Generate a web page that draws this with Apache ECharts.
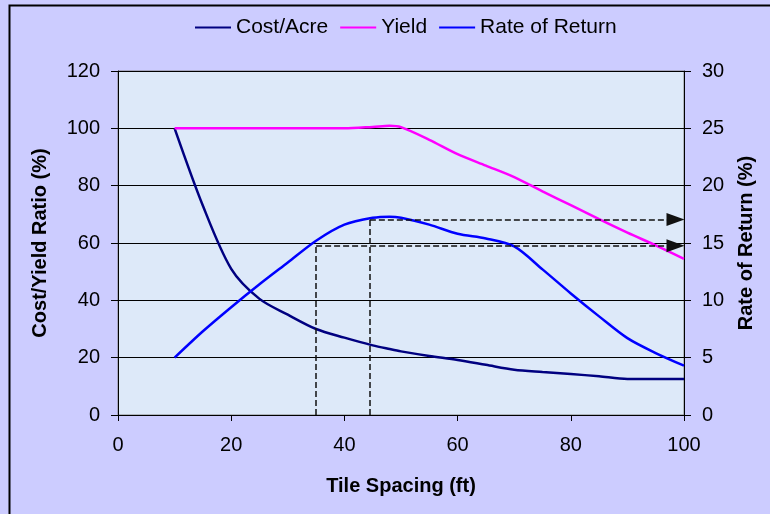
<!DOCTYPE html>
<html>
<head>
<meta charset="utf-8">
<script src="https://cdn.jsdelivr.net/npm/echarts@6/dist/echarts.min.js"></script>
<style>
  html, body { margin: 0; padding: 0; background: #ccccff; }
  #chart { width: 770px; height: 514px; }
</style>
</head>
<body>
<div id="chart"></div>
<script>
// tile spacing (ft)
const spacing = [10, 15, 20, 25, 30, 35, 40, 45, 48, 50, 55, 60, 65, 70, 75, 80, 85, 90, 95, 100]
// left axis (%)
const costAcre = [100, 73, 51, 40.5, 35, 30, 27, 24.3, 23, 22.2, 20.6, 19.2, 17.5, 15.8, 15, 14.3, 13.5, 12.6, 12.6, 12.6]
const yieldPct = [100, 100, 100, 100, 100, 100, 100, 100.5, 100.9, 100.4, 96, 91, 87, 83, 78, 73.2, 68.3, 63.6, 59.2, 54.5]
// right axis (%)
const rateReturn = [5, 7.3, 9.4, 11.4, 13.3, 15.2, 16.6, 17.2, 17.3, 17.2, 16.6, 15.8, 15.4, 14.7, 12.7, 10.6, 8.6, 6.7, 5.4, 4.3]
// dashed guide lines: spacing -> rate of return
const guideX = [35, 44.5]
const guideY = [14.75, 17.05]
const guideEndX = 98.5

const FONT = '"Liberation Sans", Arial, sans-serif'
const pairs = ys => spacing.map((x, i) => [x, ys[i]])

const chart = echarts.init(document.getElementById('chart'))

const dash = { color: '#111', width: 1.5, type: [6, 3] }
const guideLines = []
guideX.forEach((gx, i) => {
  guideLines.push([{ coord: [gx, 0], symbol: 'none' }, { coord: [gx, guideY[i]], symbol: 'none' }])
  guideLines.push([
    { coord: [gx, guideY[i]], symbol: 'none' },
    { coord: [guideEndX, guideY[i]], symbol: 'triangle', symbolSize: [13, 18] },
  ])
})

const lineSeries = (name, data, color, yAxisIndex) => ({
  name,
  type: 'line',
  yAxisIndex,
  data: pairs(data),
  smooth: 0.3,
  showSymbol: false,
  lineStyle: { color, width: 2.5 },
  itemStyle: { color },
})

const option = {
  backgroundColor: '#ccccff',
  animation: false,
  textStyle: { fontFamily: FONT },
  graphic: [{
    type: 'rect',
    left: 7, top: 3,
    shape: { width: 800, height: 600 },
    style: { fill: 'none', stroke: '#000', lineWidth: 2 },
    silent: true,
  }],
  legend: {
    top: 12,
    left: 190,
    icon: 'rect',
    itemWidth: 36,
    itemHeight: 2,
    itemGap: 12,
    textStyle: { fontSize: 21, color: '#000', fontFamily: FONT },
    data: ['Cost/Acre', 'Yield', 'Rate of Return'],
  },
  grid: {
    left: 118, right: 86, top: 71, bottom: 99,
    show: true,
    backgroundColor: '#dde9f9',
    borderColor: '#808080',
    borderWidth: 1,
  },
  xAxis: {
    type: 'value',
    min: 0, max: 100, interval: 20,
    name: 'Tile Spacing (ft)',
    nameLocation: 'middle',
    nameGap: 61,
    nameTextStyle: { fontSize: 20, fontWeight: 'bold', color: '#000' },
    axisLine: { lineStyle: { color: '#000', width: 1 } },
    axisTick: { length: 6, lineStyle: { color: '#000' } },
    axisLabel: { fontSize: 20, color: '#000', margin: 20 },
    splitLine: { show: false },
  },
  yAxis: [{
    type: 'value',
    min: 0, max: 120, interval: 20,
    name: 'Cost/Yield Ratio (%)',
    nameLocation: 'middle',
    nameGap: 68,
    nameTextStyle: { fontSize: 20, fontWeight: 'bold', color: '#000' },
    axisLine: { show: true, lineStyle: { color: '#000' } },
    axisTick: { show: true, length: 7, lineStyle: { color: '#000' } },
    axisLabel: { fontSize: 20, color: '#000', margin: 18 },
    splitLine: { show: true, lineStyle: { color: '#000', width: 1 } },
  }, {
    type: 'value',
    min: 0, max: 30, interval: 5,
    name: 'Rate of Return (%)',
    nameLocation: 'middle',
    nameGap: 52,
    nameRotate: 90,
    nameTextStyle: { fontSize: 20, fontWeight: 'bold', color: '#000' },
    axisLine: { show: true, lineStyle: { color: '#000' } },
    axisTick: { show: true, length: 7, lineStyle: { color: '#000' } },
    axisLabel: { fontSize: 20, color: '#000', margin: 18 },
    splitLine: { show: false },
  }],
  series: [
    lineSeries('Cost/Acre', costAcre, '#000080', 0),
    lineSeries('Yield', yieldPct, '#ff00ff', 0),
    Object.assign(lineSeries('Rate of Return', rateReturn, '#0000ff', 1), {
      markLine: {
        silent: true,
        symbol: ['none', 'none'],
        label: { show: false },
        lineStyle: dash,
        itemStyle: { color: '#000' },
        data: guideLines,
      },
    }),
  ],
}

chart.setOption(option)
</script>
</body>
</html>
